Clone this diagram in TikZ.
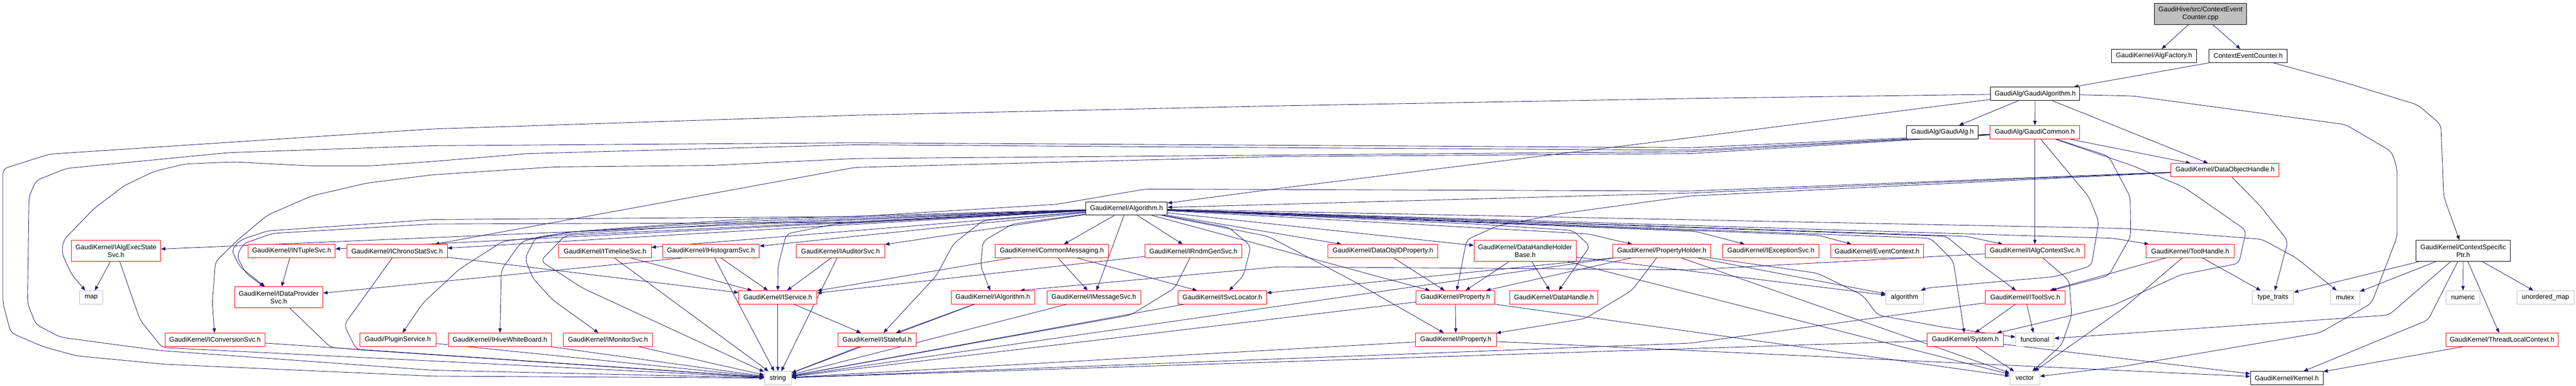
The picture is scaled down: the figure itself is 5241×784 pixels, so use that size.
\documentclass[tikz,border=0pt]{standalone}
\usepackage{fontspec}
\setmainfont{Liberation Sans}
\usetikzlibrary{arrows.meta}
\pgfdeclarelayer{bg}
\pgfsetlayers{bg,main}
\definecolor{edgeblue}{HTML}{191970}
\definecolor{grayb}{HTML}{BFBFBF}
\newcommand{\gfont}{\fontsize{13.6pt}{16pt}\selectfont}
\tikzset{
  nb/.style={draw, fill=white, line width=1pt, inner sep=0pt, minimum height=27pt, font=\gfont, align=center},
  rnode/.style={nb, draw=red},
  knode/.style={nb, draw=black},
  gnode/.style={nb, draw=grayb},
  twol/.style={minimum height=43pt},
  ed/.style={draw=edgeblue, line width=0.9pt, -{Triangle[length=9pt,width=7pt]}},
  rt/.style={ed, rounded corners=10pt},
}
\begin{document}
\begin{tikzpicture}[x=1pt,y=-1pt]
\useasboundingbox (0,0) rectangle (5241,784);
% ---------- nodes ----------
\node[knode, twol, fill=grayb, minimum width=188] (root) at (4477,28) {GaudiHive/src/ContextEvent\\Counter.cpp};
\node[knode, minimum width=173] (algfac) at (4382.5,113.5) {GaudiKernel/AlgFactory.h};
\node[knode, minimum width=159] (cech) at (4574,113.5) {ContextEventCounter.h};
\node[knode, minimum width=181] (galgo) at (4140.5,190.5) {GaudiAlg/GaudiAlgorithm.h};
\node[knode, minimum width=146] (galg) at (3952,268.5) {GaudiAlg/GaudiAlg.h};
\node[rnode, minimum width=182] (gcom) at (4140,268.5) {GaudiAlg/GaudiCommon.h};
\node[rnode, minimum width=220] (doh) at (4527,345.5) {GaudiKernel/DataObjectHandle.h};
\node[knode, minimum width=166] (alg) at (2292,423.5) {GaudiKernel/Algorithm.h};
% row A
\node[rnode, twol, minimum width=182] (execst) at (236,509.5) {GaudiKernel/IAlgExecState\\Svc.h};
\node[rnode, minimum width=177] (ntuple) at (593.5,510) {GaudiKernel/INTupleSvc.h};
\node[rnode, minimum width=204] (ichrono) at (808,510) {GaudiKernel/IChronoStatSvc.h};
\node[rnode, minimum width=188] (itime) at (1231,510) {GaudiKernel/ITimelineSvc.h};
\node[rnode, minimum width=197] (ihist) at (1446.5,510) {GaudiKernel/IHistogramSvc.h};
\node[rnode, minimum width=180] (iaud) at (1710,510) {GaudiKernel/IAuditorSvc.h};
\node[rnode, minimum width=230] (cmsg) at (2140,510) {GaudiKernel/CommonMessaging.h};
\node[rnode, minimum width=197] (irndm) at (2428,510) {GaudiKernel/IRndmGenSvc.h};
\node[rnode, minimum width=223] (doidp) at (2813.5,510) {GaudiKernel/DataObjIDProperty.h};
\node[rnode, twol, minimum width=208] (dhhb) at (3103,509.5) {GaudiKernel/DataHandleHolder\\Base.h};
\node[rnode, minimum width=200] (ph) at (3381,510) {GaudiKernel/PropertyHolder.h};
\node[rnode, minimum width=196] (iexc) at (3603,510) {GaudiKernel/IExceptionSvc.h};
\node[rnode, minimum width=188] (evctx) at (3819,510) {GaudiKernel/EventContext.h};
\node[rnode, minimum width=202] (iacs) at (4140,510) {GaudiKernel/IAlgContextSvc.h};
\node[rnode, minimum width=179] (thandle) at (4456,510) {GaudiKernel/ToolHandle.h};
\node[knode, twol, minimum width=192] (csp) at (5011.5,509.5) {GaudiKernel/ContextSpecific\\Ptr.h};
% row B
\node[gnode, minimum width=47] (map) at (185.5,604) {map};
\node[rnode, twol, minimum width=180] (idp) at (567,604) {GaudiKernel/IDataProvider\\Svc.h};
\node[rnode, minimum width=159] (iserv) at (1582.5,604) {GaudiKernel/IService.h};
\node[rnode, minimum width=170] (ialgo) at (2020,604) {GaudiKernel/IAlgorithm.h};
\node[rnode, minimum width=191] (imsg) at (2225.5,604) {GaudiKernel/IMessageSvc.h};
\node[rnode, minimum width=180] (isvc) at (2487,604) {GaudiKernel/ISvcLocator.h};
\node[rnode, minimum width=160] (prop) at (2961,604) {GaudiKernel/Property.h};
\node[rnode, minimum width=179] (dhandle) at (3161.5,604) {GaudiKernel/DataHandle.h};
\node[gnode, minimum width=76] (algo) at (3875,604) {algorithm};
\node[rnode, minimum width=163] (itool) at (4120.5,604) {GaudiKernel/IToolSvc.h};
\node[gnode, minimum width=84] (ttraits) at (4624.5,604) {type\_traits};
\node[gnode, minimum width=60] (mutex) at (4771,604) {mutex};
\node[gnode, minimum width=69] (numeric) at (5011,604) {numeric};
\node[gnode, minimum width=116] (umap) at (5179,604) {unordered\_map};
% row C
\node[rnode, minimum width=203] (conv) at (437.5,690) {GaudiKernel/IConversionSvc.h};
\node[rnode, minimum width=155] (plugin) at (809.5,690) {Gaudi/PluginService.h};
\node[rnode, minimum width=210] (hive) at (1017,690) {GaudiKernel/IHiveWhiteBoard.h};
\node[rnode, minimum width=182] (imon) at (1237,690) {GaudiKernel/IMonitorSvc.h};
\node[rnode, minimum width=159] (istate) at (1784.5,690) {GaudiKernel/IStateful.h};
\node[rnode, minimum width=164] (iprop) at (2962,690) {GaudiKernel/IProperty.h};
\node[rnode, minimum width=155] (system) at (3998.5,690) {GaudiKernel/System.h};
\node[gnode, minimum width=78] (func) at (4140,690) {functional};
\node[rnode, minimum width=229] (tlc) at (5090.5,690) {GaudiKernel/ThreadLocalContext.h};
% row D
\node[gnode, minimum width=55] (str) at (1582.5,768) {string};
\node[gnode, minimum width=61] (vec) at (4119.5,768) {vector};
\node[knode, minimum width=148] (kernel) at (4652.5,768) {GaudiKernel/Kernel.h};
% ---------- edges ----------
\begin{pgfonlayer}{bg}
\fill[white] (0,0) rectangle (5241,784);
\foreach \s/\t in {root/algfac, root/cech, cech/galgo, galgo/galg, galgo/gcom, galgo/doh, gcom/doh, gcom/iacs,
  alg/execst, alg/ntuple, alg/ichrono, alg/itime, alg/ihist, alg/iaud, alg/cmsg, alg/imsg, alg/irndm, alg/doidp, alg/dhhb, alg/prop,
  execst/map, ntuple/idp, ichrono/iserv, itime/iserv, ihist/iserv, iaud/iserv, cmsg/iserv, irndm/iserv,
  cmsg/imsg, cmsg/isvc, iserv/istate, ialgo/istate,
  doidp/prop, dhhb/prop, dhhb/dhandle, ph/prop, prop/iprop,
  dhhb/algo, ph/algo, ph/vec, dhhb/vec,
  itool/system, itool/func, system/vec, system/kernel, iprop/kernel,
  thandle/itool, thandle/ttraits,
  csp/ttraits, csp/mutex, csp/numeric, csp/umap, csp/tlc, tlc/kernel,
  conv/str, plugin/str, hive/str, imon/str, itime/str, ihist/str, iserv/str, iaud/str, istate/str, ialgo/str, imsg/str, isvc/str, iprop/str, prop/str, ph/str, system/str}
  \draw[ed] (\s) -- (\t);
% routed edges from Algorithm.h
\draw[rt] (alg) -- (3230,475) -- (ph);
\draw[rt] (alg) -- (3450,470) -- (iexc);
\draw[rt] (alg) -- (3700,478) -- (evctx);
\draw[rt] (alg) -- (4000,480) -- (iacs);
\draw[rt] (alg) -- (4300,484) -- (thandle);
\draw[rt] (alg) -- (4320,464) -- (4602,486) -- (4672,524) -- (mutex);
\draw[rt] (alg) -- (3928,484) -- (3974,530) -- (system);
\draw[rt] (alg) -- (3960,480) -- (4020,530) -- (itool);
\draw[rt] (alg) -- (3000,455) -- (3200,468) -- (3235,500) -- (dhandle);
\draw[rt] (alg) -- (2580,480) -- (2748,568) -- (iprop);
\draw[rt] (alg) -- (2500,462) -- (2545,500) -- (2530,560) -- (isvc);
\draw[rt] (alg) -- (2060,455) -- (2000,490) -- (1995,540) -- (ialgo);
\draw[rt] (alg) -- (2000,448) -- (1940,495) -- (1905,560) -- (istate);
\draw[rt] (alg) -- (1700,455) -- (1600,475) -- (1583,540) -- (iserv);
\draw[rt] (alg) -- (1500,446) -- (1174,470) -- (1090,482) -- (1068,525) -- (1084,565) -- (1124,609) -- (imon);
\draw[rt] (alg) -- (1500,450) -- (1152,472) -- (1062,490) -- (1020,548) -- (hive);
\draw[rt] (alg) -- (1500,454) -- (1174,474) -- (1023,490) -- (933,548) -- (860,616) -- (plugin);
\draw[rt] (alg) -- (1150,478) -- (1100,530) -- (1185,585) -- (str);
\draw[rt] (alg) -- (1740,452) -- (880,455) -- (555,474) -- (495,495) -- (482,520) -- (500,555) -- (idp);
% GaudiAlgorithm.h
\draw[rt] (galgo) -- (3460,277) -- (2600,383) -- (alg);
\draw[rt] (galgo) -- (3440,200) -- (2600,215) -- (1740,234) -- (880,262) -- (101,313) -- (6,343) -- (6,616) -- (22,676) -- (90,705) -- (157,723) -- (337,740) -- (880,764) -- (str);
\draw[rt] (galgo) -- (4340,195) -- (4772,253) -- (4866,308) -- (4877,343) -- (4877,481) -- (4825,616) -- (4720,676) -- (4320,744) -- (vec);
% GaudiCommon.h
\draw[rt] (gcom) -- (3440,300) -- (2600,295) -- (1740,290) -- (880,296) -- (466,310) -- (135,342) -- (73,367) -- (59,400) -- (56,616) -- (73,659) -- (123,685) -- (325,712) -- (880,752) -- (str);
\draw[rt] (gcom) -- (3440,305) -- (2600,300) -- (1740,294) -- (1073,312) -- (880,328) -- (752,337) -- (634,337) -- (477,329) -- (376,333) -- (314,348) -- (253,377) -- (191,424) -- (129,488) -- (126,515) -- (146,558) -- (map);
\draw[rt] (gcom) -- (3440,308) -- (2600,315) -- (1740,322) -- (1449,336) -- (1129,339) -- (880,355) -- (746,372) -- (634,398) -- (544,437) -- (483,488) -- (438,532) -- (432,616) -- (conv);
\draw[rt] (gcom) -- (3440,312) -- (2600,318) -- (1740,340) -- (ichrono);
\draw[rt] (gcom) -- (4290,317) -- (4334,400) -- (4335,480) -- (4290,560) -- (itool);
\draw[rt] (gcom) -- (4250,400) -- (4270,450) -- (4255,540) -- (4180,562) -- (3920,585) -- (algo);
\draw[rt] (gcom) -- (4340,337) -- (4443,380) -- (4570,468) -- (4555,535) -- (4437,558) -- (4300,620) -- (4100,668) -- (system);
% DataObjectHandle.h
\draw[rt] (doh) -- (3440,392) -- (alg);
\draw[rt] (doh) -- (3440,398) -- (3175,434) -- (3046,459) -- (2984,487) -- (prop);
\draw[rt] (doh) -- (4600,420) -- (4655,490) -- (ttraits);
\draw[rt] (doh) -- (3440,388) -- (2331,384) -- (2150,415) -- (1740,440) -- (880,446) -- (544,469) -- (488,488) -- (471,508) -- (488,542) -- (idp);
% others
\draw[rt] (iacs) -- (3440,548) -- (2600,542) -- ([xshift=-30pt]ialgo.north east);
\draw[rt] (iacs) -- (4210,570) -- (4215,640) -- (4195,700) -- (vec);
\draw[rt] (thandle) -- (4320,626) -- (vec);
\draw[rt] (ph) -- (3698,555) -- (3790,600) -- (3820,640) -- (3950,664) -- (func);
\draw[rt] (ph) -- (3320,590) -- (3225,647) -- (iprop);
\draw[ed] (ph.south west) -- (isvc);
\draw[ed] ([xshift=40pt]ihist.south west) -- (idp);
\draw[ed] (prop.south east) -- (vec);
\draw[rt] (execst) -- (285,650) -- (330,706) -- (str);
\draw[rt] (idp) -- (673,706) -- (str);
\draw[rt] (ichrono) -- (700,660) -- (725,710) -- (str);
\draw[rt] (irndm) -- (2390,585) -- (2300,640) -- (str);
\draw[rt] (itool) -- (3440,697) -- (str);
\draw[rt] (csp) -- (4860,640) -- (4400,672) -- (func);
\draw[rt] (csp) -- (4940,650) -- (kernel);
\draw[rt] (cech) -- (4772,168) -- (4919,213) -- (4966,253) -- (4972,400) -- (csp);
\end{pgfonlayer}
\end{tikzpicture}
\end{document}
